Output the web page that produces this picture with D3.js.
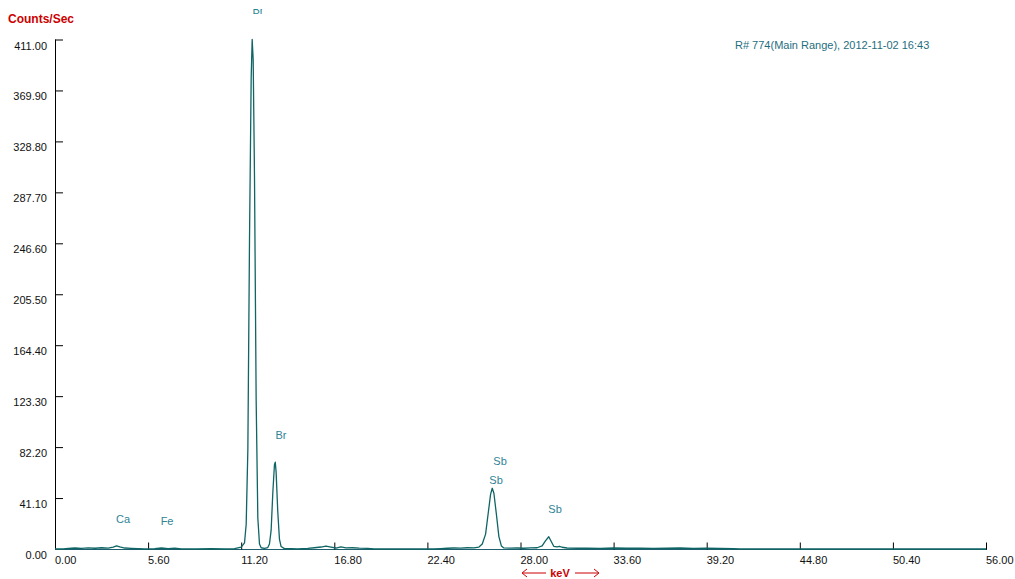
<!DOCTYPE html>
<html><head><meta charset="utf-8">
<script src="https://cdn.jsdelivr.net/npm/d3@7"></script>
<style>
html,body{margin:0;padding:0;background:#fff;}
svg{display:block;font-family:"Liberation Sans",Arial,sans-serif;}
</style></head>
<body>
<svg id="chart" width="1015" height="579"></svg>
<script>
// ---- data ----
const energyKeV = [0.0,0.5,0.8,1.2,1.6,2.0,2.4,2.8,3.2,3.5,3.7,3.9,4.2,4.6,5.0,5.4,6.0,6.4,6.8,7.2,7.6,8.5,9.4,10.2,10.8,11.2,11.4,11.5,11.6,11.7,11.8,11.86,11.92,12.0,12.1,12.2,12.3,12.4,12.6,12.8,12.9,13.0,13.1,13.2,13.25,13.3,13.4,13.5,13.6,13.8,14.2,14.6,15.2,15.6,16.0,16.3,16.6,16.9,17.2,17.5,17.9,18.3,18.8,19.2,20.0,22.8,23.2,23.6,24.0,24.4,24.8,25.2,25.5,25.7,25.9,26.05,26.2,26.3,26.4,26.55,26.7,26.85,27.0,27.4,27.8,28.2,28.6,29.0,29.3,29.5,29.7,29.85,30.0,30.2,30.35,30.5,30.8,31.4,32.0,32.8,33.6,34.4,35.2,36.0,36.8,37.6,38.4,39.2,40.0,40.8,41.2,56.0];
const countsPerSec = [0,0,0.4,0.8,0.5,0.9,0.6,1.0,0.7,1.6,2.6,1.8,0.8,0.5,0.3,0,0.3,0.8,0.2,0.6,0,0,0.2,0,0.3,1.5,5,20,80,250,380,411,395,300,120,25,4,1,0.5,1.2,4,15,45,68,70,62,30,8,2,0.3,0.2,0,0.5,1.0,1.6,2.4,1.6,0.8,1.8,0.9,1.0,0.7,0.5,0,0,0,0.3,0.6,0.8,0.7,1.0,0.9,1.6,4,12,28,44,49,45,28,10,2.5,0.9,0.7,0.8,0.6,0.9,1.0,2.5,6.5,9.9,6,2.2,1.8,2.2,1.4,0.8,0.6,0.7,0.5,0.8,0.6,0.7,0.5,0.6,0.8,0.5,0.6,0.4,0.3,0,0];
const xTickValues = [0,5.6,11.2,16.8,22.4,28.0,33.6,39.2,44.8,50.4,56.0];
const yTickValues = [0,41.1,82.2,123.3,164.4,205.5,246.6,287.7,328.8,369.9,411.0];
const peakLabels = ["Ca","Fe","Br","Br","Sb","Sb","Sb"];
const peakLabelEnergies = [4.09,6.74,12.21,13.59,26.77,26.53,30.08];
const peakLabelCounts = [21,19.4,431.6,88.7,67.8,52.4,29];
const headerText = "R# 774(Main Range), 2012-11-02 16:43";
const yTitle = "Counts/Sec";
const xTitle = "keV";

// ---- drawing ----
const svg = d3.select("#chart");
const x = d3.scaleLinear().domain([0,56]).range([55,986]);
const y = d3.scaleLinear().domain([0,411]).range([549,39.5]);

svg.append("defs").append("clipPath").attr("id","topclip")
  .append("rect").attr("x",0).attr("y",9).attr("width",1015).attr("height",570);

// y axis
const yAxis = d3.axisRight(y).tickValues(yTickValues).tickSize(8).tickFormat("");
const gy = svg.append("g").attr("transform","translate(55,0)").call(yAxis);
gy.select(".domain").attr("stroke","#000").attr("d","M0.5,"+y(411)+"V"+y(0));
gy.selectAll(".tick line").attr("stroke","#000");
svg.append("g").selectAll("text").data(yTickValues).join("text")
  .attr("x",47).attr("y",d=>y(d)+10)
  .attr("text-anchor","end").attr("font-size",11).attr("fill","#111")
  .text(d=>d.toFixed(2));

// x axis
const xAxis = d3.axisTop(x).tickValues(xTickValues).tickSize(7).tickFormat("");
const gx = svg.append("g").attr("transform","translate(0,"+(y(0)+0.5)+")").call(xAxis);
gx.select(".domain").attr("stroke","#1d5f6e").attr("d","M55,0H987");
gx.selectAll(".tick line").attr("stroke","#000");
svg.append("g").selectAll("text").data(xTickValues).join("text")
  .attr("x",d=>x(d)).attr("y",564)
  .attr("text-anchor","start").attr("font-size",11).attr("fill","#111")
  .text(d=>d.toFixed(2));

// spectrum
const pts = energyKeV.map((e,i)=>[e,countsPerSec[i]]);
const line = d3.line().x(d=>x(d[0])).y(d=>y(d[1]));
svg.append("path").datum(pts).attr("d",line)
  .attr("fill","none").attr("stroke","#0f6464").attr("stroke-width",1.3)
  .attr("stroke-linejoin","round");

// peak labels
svg.append("g").attr("clip-path","url(#topclip)").selectAll("text")
  .data(peakLabels).join("text")
  .attr("x",(d,i)=>x(peakLabelEnergies[i])).attr("y",(d,i)=>y(peakLabelCounts[i]))
  .attr("text-anchor","middle").attr("font-size",11).attr("fill","#2f8496")
  .text(d=>d);

// titles
svg.append("text").attr("x",8).attr("y",23).attr("font-size",12).attr("font-weight","bold")
  .attr("fill","#cc0000").text(yTitle);
svg.append("text").attr("x",735).attr("y",49).attr("font-size",11).attr("fill","#1f6e7e").text(headerText);

const kg = svg.append("g").attr("fill","#cc0000").attr("stroke","#cc0000");
kg.append("text").attr("x",560).attr("y",577).attr("text-anchor","middle").attr("font-size",11)
  .attr("font-weight","bold").attr("stroke","none").text(xTitle);
kg.append("path").attr("fill","none").attr("stroke-width",1)
  .attr("d","M523,573H546 M598,573H575 M527,569L522,573L527,577 M594,569L599,573L594,577");
</script>
</body></html>
